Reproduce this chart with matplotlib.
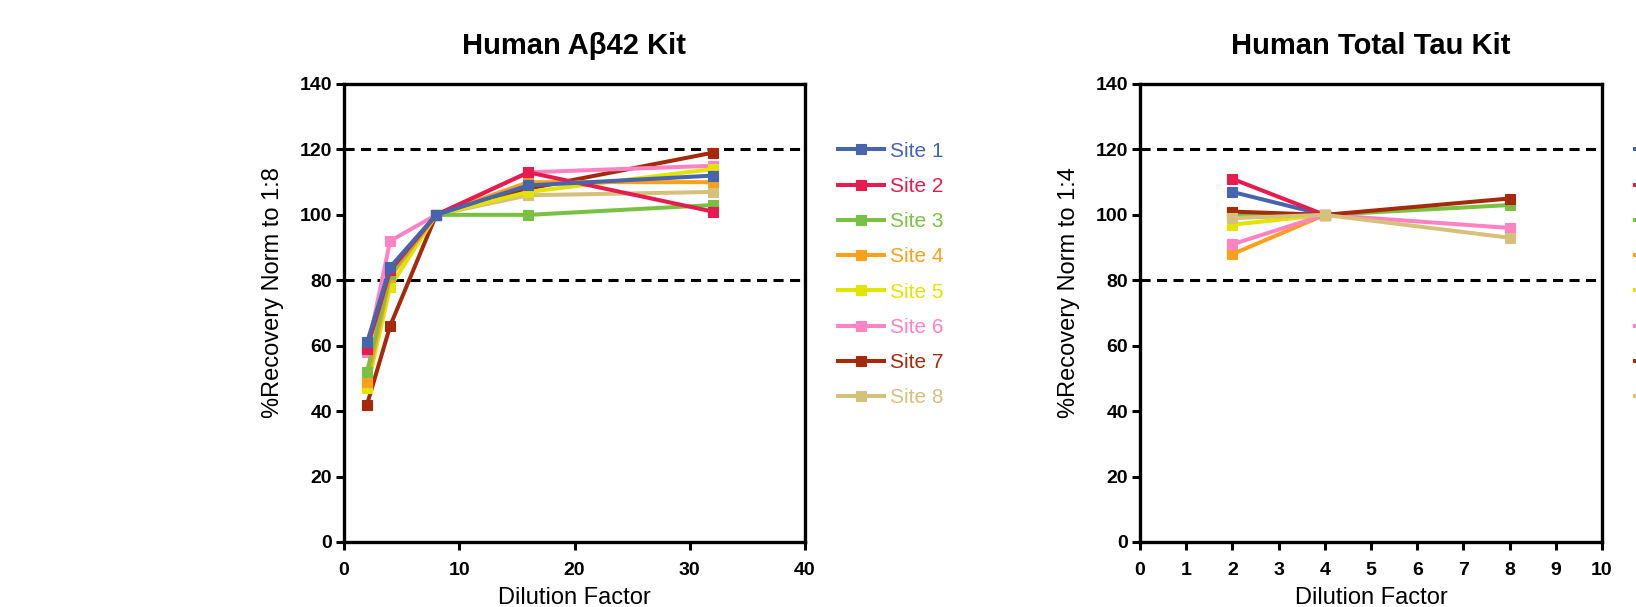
import numpy as np
import matplotlib
matplotlib.use("Agg")
import matplotlib.pyplot as plt

plt.rcParams['font.family'] = ['Liberation Sans', 'DejaVu Sans']

# ---------------- data ----------------
site_labels = ["Site 1", "Site 2", "Site 3", "Site 4", "Site 5", "Site 6", "Site 7", "Site 8"]
site_colors = ["#4764AE", "#E61B50", "#7AC143", "#F9A11B", "#E2E400", "#FF82C2", "#A52A0B", "#D6C17C"]

abeta_dilution = [2, 4, 8, 16, 32]
abeta_site1 = [61, 84, 100, 109, 112]
abeta_site2 = [59, 83, 100, 113, 101]
abeta_site3 = [52, 82, 100, 100, 103]
abeta_site4 = [49, 81, 100, 110, 110]
abeta_site5 = [47, 78, 100, 107, 114]
abeta_site6 = [58, 92, 100, 113, 115]
abeta_site7 = [42, 66, 100, 108, 119]
abeta_site8 = [48, 83, 100, 106, 107]

tau_dilution = [2, 4, 8]
tau_site1 = [107, 100, np.nan]
tau_site2 = [111, 100, np.nan]
tau_site3 = [100, 100, 103]
tau_site4 = [88, 100, np.nan]
tau_site5 = [97, 100, np.nan]
tau_site6 = [91, 100, 96]
tau_site7 = [101, 100, 105]
tau_site8 = [99, 100, 93]

abeta_series = [abeta_site1, abeta_site2, abeta_site3, abeta_site4,
                abeta_site5, abeta_site6, abeta_site7, abeta_site8]
tau_series = [tau_site1, tau_site2, tau_site3, tau_site4,
              tau_site5, tau_site6, tau_site7, tau_site8]

ref_lines = [80, 120]
y_ticks = [0, 20, 40, 60, 80, 100, 120, 140]
abeta_xticks = [0, 10, 20, 30, 40]
tau_xticks = list(range(0, 11))

# ---------------- figure ----------------
W, H = 1636, 607
fig = plt.figure(figsize=(W / 100, H / 100), dpi=100)

top_px, bot_px = 84, 542
ax1 = fig.add_axes([344 / W, 1 - bot_px / H, (805 - 344) / W, (bot_px - top_px) / H])
ax2 = fig.add_axes([1140 / W, 1 - bot_px / H, (1602 - 1140) / W, (bot_px - top_px) / H])

LW = 2.9
MS = 6.8


def style_axes(ax, xticks, xlim):
    ax.set_xlim(*xlim)
    ax.set_ylim(0, 140)
    ax.set_xticks(xticks)
    ax.set_yticks(y_ticks)
    for s in ax.spines.values():
        s.set_linewidth(2.4)
        s.set_color("black")
    ax.tick_params(direction='out', length=6, width=2.2, labelsize=14,
                   top=False, right=False)
    ax.tick_params(axis='x', pad=8.5)
    ax.tick_params(axis='y', pad=2.5)
    for lab in ax.get_xticklabels() + ax.get_yticklabels():
        lab.set_fontweight('bold')
    for r in ref_lines:
        ax.axhline(r, color='black', lw=2.2, ls=(0, (3.3, 2.1)), zorder=1)


def draw(ax, x, series, order):
    handles = [None] * len(series)
    for i in order:
        h, = ax.plot(x, series[i], color=site_colors[i], lw=LW, marker='s',
                     markersize=MS, markeredgewidth=0.8, markeredgecolor=site_colors[i],
                     zorder=3, clip_on=False)
        handles[i] = h
    return handles


h1 = draw(ax1, abeta_dilution, abeta_series, order=list(range(7, -1, -1)))
h2 = draw(ax2, tau_dilution, tau_series, order=list(range(8)))

style_axes(ax1, abeta_xticks, (0, 40))
style_axes(ax2, tau_xticks, (0, 10))

for ax, handles in ((ax1, h1), (ax2, h2)):
    ax.legend(handles, site_labels, loc='upper left', bbox_to_anchor=(1.0716, 0.874),
              frameon=False, borderpad=0, borderaxespad=0, handlelength=2.2,
              handletextpad=0.3, labelspacing=0.78, fontsize=15,
              labelcolor='linecolor')

# titles
fig.text((344 + 805) / 2 / W, 1 - 54 / H, "Human A\u03b242 Kit", ha='center', va='baseline',
         fontsize=21, fontweight='bold')
fig.text((1140 + 1602) / 2 / W, 1 - 54 / H, "Human Total Tau Kit", ha='center', va='baseline',
         fontsize=21, fontweight='bold')

# axis labels
fig.text(273 / W, 1 - 293 / H, "%Recovery Norm to 1:8", rotation=90, ha='center', va='center',
         fontsize=17)
fig.text(1069 / W, 1 - 293 / H, "%Recovery Norm to 1:4", rotation=90, ha='center', va='center',
         fontsize=17)
fig.text((344 + 805) / 2 / W, 1 - 598 / H, "Dilution Factor", ha='center', va='center', fontsize=17)
fig.text((1140 + 1602) / 2 / W, 1 - 598 / H, "Dilution Factor", ha='center', va='center', fontsize=17)

fig.savefig("out.png", dpi=100)
